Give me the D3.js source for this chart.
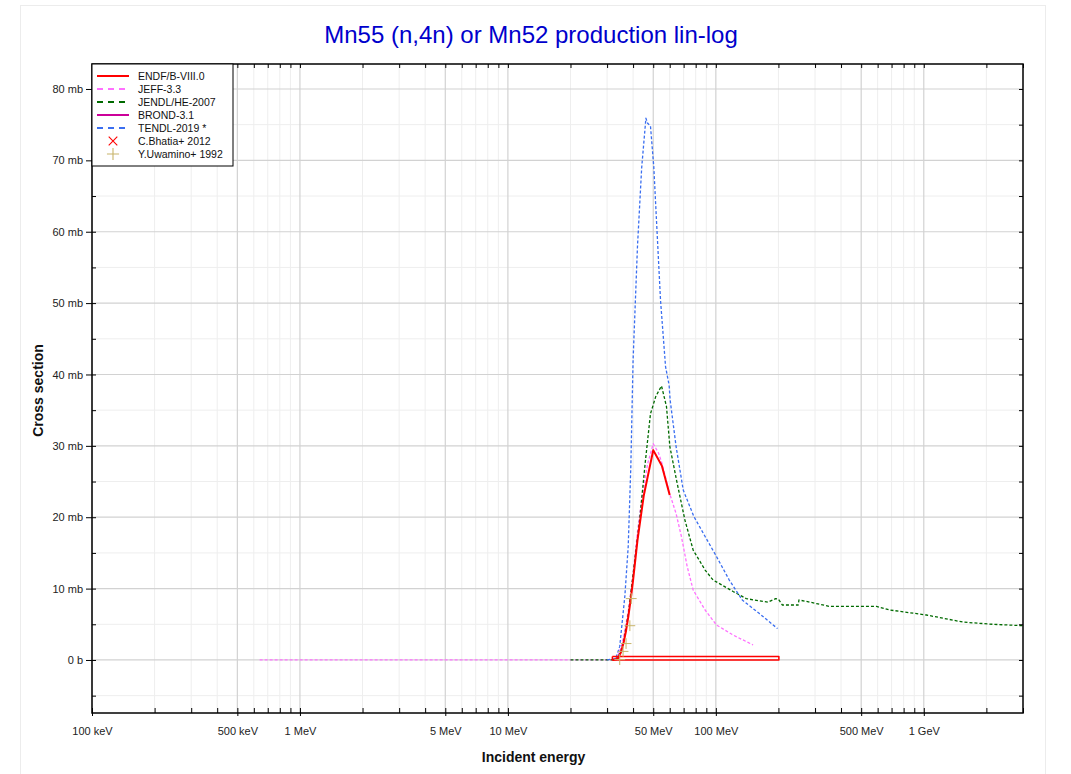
<!DOCTYPE html>
<html><head><meta charset="utf-8">
<script src="https://cdn.jsdelivr.net/npm/d3@7"></script>
<style>
body{margin:0;background:#fff;}
svg{display:block;font-family:"Liberation Sans",Arial,sans-serif;}
</style></head>
<body><svg id="c" width="1071" height="774"></svg>
<script>
// ---------- data (energy in MeV, cross section in mb) ----------
const seriesNames = ["ENDF/B-VIII.0","JEFF-3.3","JENDL/HE-2007","BROND-3.1","TENDL-2019 *","C.Bhatia+ 2012","Y.Uwamino+ 1992"];
const seriesColors = ["#ff0000","#ff70ff","#006a00","#cc0099","#3a6ef0","#ff0000","#c8b46a"];

const endf = [[32,0],[33,0.05],[34,0.3],[35,1.1],[36,2.4],[37,4.1],[38,6.2],[39,8.6],[40,11.2],[42,16.8],[45,23.0],[50,29.4],[55,27.2],[60,23.1]];
const endfBand = [[31.8,0.5],[201,0.5],[201,0.0],[31.8,0.0],[31.8,0.5]];
const jeff = [[0.64,0],[30,0],[32,0],[33,0.2],[34,0.8],[35,1.8],[36,3.2],[38,7.0],[40,12.0],[42,18.0],[44,22.5],[47,27.5],[50,30.3],[53,29.0],[55,27.6],[60,23.3],[64.4,20.5],[68.3,17.3],[72.8,13.1],[77.8,9.8],[88.8,7.0],[100.7,4.9],[121,3.5],[151,2.1]];
const jendl = [[20,0],[30,0],[32,0],[33,0.1],[34,0.5],[35,1.3],[36,2.6],[38,6.5],[40,12.0],[43,19.6],[45.7,27.5],[48.5,34.5],[51.4,36.9],[54.8,38.4],[57.9,35.5],[60.1,29.9],[64.7,25.2],[71,19.6],[77.8,15.4],[88.8,12.6],[97,11.2],[121,9.6],[140,8.6],[160,8.3],[178,8.1],[194,8.6],[200,8.5],[209,7.7],[249,7.7],[251,8.4],[273,8.2],[305,7.9],[353,7.5],[592,7.5],[687,7.0],[1030,6.3],[1550,5.3],[2150,5.0],[3000,4.8]];
const brond = [];
const tendl = [[30,0],[33,0.2],[34.5,1.9],[36.5,8.9],[37.9,15.9],[39,27],[40,42],[42,58],[44,69],[46.1,75.9],[47,75.2],[48.5,74.8],[50.3,69.1],[52.2,59.8],[54.2,50.4],[57.3,41.1],[59.6,38.5],[60.3,36.4],[64.4,29.9],[69.7,23.8],[78.4,20.1],[88.8,17.3],[100.7,14.5],[116,11.2],[134,8.4],[162,6.5],[198,4.4]];
const bhatia = [];
const uwamino = [[34.5,0.05],[35.8,1.2],[37.0,2.3],[38.6,4.8],[39.2,8.6]];

const xTickLabels = ["100 keV","500 keV","1 MeV","5 MeV","10 MeV","50 MeV","100 MeV","500 MeV","1 GeV"];
const xTickValues = [1e5,5e5,1e6,5e6,1e7,5e7,1e8,5e8,1e9];          // eV
const yTickValues = [0,10,20,30,40,50,60,70,80];                    // mb
const yTickLabels = ["0 b","10 mb","20 mb","30 mb","40 mb","50 mb","60 mb","70 mb","80 mb"];
const yMinorValues = [-5,5,15,25,35,45,55,65,75];

// ---------- layout ----------
const L=92,R=1023,T=64,B=713;
const svg=d3.select("#c");
const x=d3.scaleLog().domain([1e5,3e9]).range([L,R]);
const y=d3.scaleLinear().domain([-7.43,83.5]).range([B,T]);

// outer frame
svg.append("rect").attr("x",20.5).attr("y",5.5).attr("width",1025).attr("height",790)
  .attr("fill","none").attr("stroke","#ececec");

// all decade multiples
const xAll=[];
for(let d=1e5; d<=1e9; d*=10){ for(let m=1;m<=9;m++){ const v=m*d; if(v<=3e9+1) xAll.push(v);} }
const xMinor = xAll.filter(v=>!xTickValues.some(t=>Math.abs(t-v)/v<1e-6));

const grid=svg.append("g");
grid.selectAll(".vgm").data(xMinor).join("line")
  .attr("x1",d=>x(d)).attr("x2",d=>x(d)).attr("y1",T).attr("y2",B)
  .attr("stroke","#eeeeee").attr("stroke-width",1);
grid.selectAll(".hgm").data(yMinorValues).join("line")
  .attr("x1",L).attr("x2",R).attr("y1",d=>y(d)).attr("y2",d=>y(d))
  .attr("stroke","#eeeeee").attr("stroke-width",1);
grid.selectAll(".vg").data(xTickValues).join("line")
  .attr("x1",d=>x(d)).attr("x2",d=>x(d)).attr("y1",T).attr("y2",B)
  .attr("stroke","#d2d2d2").attr("stroke-width",1.2);
grid.selectAll(".hg").data(yTickValues).join("line")
  .attr("x1",L).attr("x2",R).attr("y1",d=>y(d)).attr("y2",d=>y(d))
  .attr("stroke","#d2d2d2").attr("stroke-width",1.2);

// ---------- curves ----------
svg.append("clipPath").attr("id","pc").append("rect").attr("x",L).attr("y",T).attr("width",R-L).attr("height",B-T);
const plot=svg.append("g").attr("clip-path","url(#pc)");
const line=d3.line().x(d=>x(d[0]*1e6)).y(d=>y(d[1]));

function drawLine(data,color,w,dash){
  if(!data.length) return;
  plot.append("path").datum(data).attr("d",line).attr("fill","none")
    .attr("stroke",color).attr("stroke-width",w).attr("stroke-dasharray",dash||null)
    .attr("stroke-linejoin","round");
}
drawLine(jeff,seriesColors[1],1.3,"3,2");
drawLine(jendl,seriesColors[2],1.3,"3,2");
drawLine(tendl,seriesColors[4],1.3,"3,2");
drawLine(brond,seriesColors[3],2);
drawLine(endfBand,seriesColors[0],1.5);
drawLine(endf,seriesColors[0],2);

// markers
plot.selectAll(".uw").data(uwamino).join("path")
  .attr("transform",d=>`translate(${x(d[0]*1e6)},${y(d[1])})`)
  .attr("d",d3.symbol(d3.symbolPlus,40))
  .attr("fill","none").attr("stroke",seriesColors[6]).attr("stroke-width",1);
plot.selectAll(".bh").data(bhatia).join("path")
  .attr("transform",d=>`translate(${x(d[0]*1e6)},${y(d[1])})`)
  .attr("d",d3.symbol(d3.symbolX,40)).attr("fill","none").attr("stroke",seriesColors[5]);

// ---------- axes ----------
const axFont=g=>g.selectAll("text").attr("font-size",11).attr("font-family","'Liberation Sans',Arial,sans-serif").attr("fill","#222");
// bottom labelled
const bx=svg.append("g").attr("transform",`translate(0,${B})`)
  .call(d3.axisBottom(x).tickValues(xTickValues).tickFormat((d,i)=>xTickLabels[i]).tickSize(5).tickPadding(9));
bx.select(".domain").remove(); axFont(bx);
bx.selectAll(".tick line").attr("y1",-5).attr("y2",3).attr("stroke","#000");
// bottom minor (inward)
const bxm=svg.append("g").attr("transform",`translate(0,${B})`)
  .call(d3.axisBottom(x).tickValues(xMinor).tickFormat("").tickSize(-5));
bxm.select(".domain").remove(); bxm.selectAll(".tick line").attr("stroke","#000");
// top ticks (inward)
const tx=svg.append("g").attr("transform",`translate(0,${T})`)
  .call(d3.axisTop(x).tickValues(xAll).tickFormat("").tickSize(-4));
tx.select(".domain").remove(); tx.selectAll(".tick line").attr("stroke","#000");
// left labelled
const ly=svg.append("g").attr("transform",`translate(${L},0)`)
  .call(d3.axisLeft(y).tickValues(yTickValues).tickFormat((d,i)=>yTickLabels[i]).tickSize(6).tickPadding(3));
ly.select(".domain").remove(); axFont(ly);
ly.selectAll(".tick line").attr("x1",4).attr("x2",-6).attr("stroke","#000");
const lym=svg.append("g").attr("transform",`translate(${L},0)`)
  .call(d3.axisLeft(y).tickValues(yMinorValues).tickFormat("").tickSize(-4));
lym.select(".domain").remove(); lym.selectAll(".tick line").attr("stroke","#000");
// right ticks inward
const ry=svg.append("g").attr("transform",`translate(${R},0)`)
  .call(d3.axisRight(y).tickValues(yTickValues.concat(yMinorValues)).tickFormat("").tickSize(-4));
ry.select(".domain").remove(); ry.selectAll(".tick line").attr("stroke","#000");

// frame
svg.append("rect").attr("x",L).attr("y",T).attr("width",R-L).attr("height",B-T)
  .attr("fill","none").attr("stroke","#000").attr("stroke-width",1.5);

// ---------- titles ----------
svg.append("text").attr("x",531).attr("y",43).attr("text-anchor","middle")
  .attr("font-size",24).attr("fill","#0000cc").text("Mn55 (n,4n) or Mn52 production lin-log");
svg.append("text").attr("x",(L+R)/2-24).attr("y",762).attr("text-anchor","middle")
  .attr("font-size",14).attr("font-weight","bold").attr("fill","#111").text("Incident energy");
svg.append("text").attr("transform",`translate(43,${(T+B)/2+2}) rotate(-90)`).attr("text-anchor","middle")
  .attr("font-size",14).attr("font-weight","bold").attr("fill","#111").text("Cross section");

// ---------- legend ----------
const lg=svg.append("g");
lg.append("rect").attr("x",L).attr("y",T).attr("width",141).attr("height",102)
  .attr("fill","#fff").attr("stroke","#000").attr("stroke-width",1);
const legendStyle=[
  {type:"line",w:2,dash:null},{type:"line",w:2,dash:"6,5"},{type:"line",w:2,dash:"6,5"},
  {type:"line",w:2,dash:null},{type:"line",w:2,dash:"6,5"},{type:"x"},{type:"plus"}];
seriesNames.forEach((n,i)=>{
  const yy=T+12+i*13;
  const s=legendStyle[i];
  if(s.type==="line"){
    lg.append("line").attr("x1",97).attr("x2",129).attr("y1",yy).attr("y2",yy)
      .attr("stroke",seriesColors[i]).attr("stroke-width",s.w).attr("stroke-dasharray",s.dash);
  } else {
    lg.append("path").attr("transform",`translate(113,${yy})`)
      .attr("d",d3.symbol(s.type==="x"?d3.symbolX:d3.symbolPlus,50))
      .attr("fill","none").attr("stroke",seriesColors[i]).attr("stroke-width",1.1);
  }
  lg.append("text").attr("x",138).attr("y",yy+4).attr("font-size",10.5).attr("fill","#111").text(n);
});
</script></body></html>
